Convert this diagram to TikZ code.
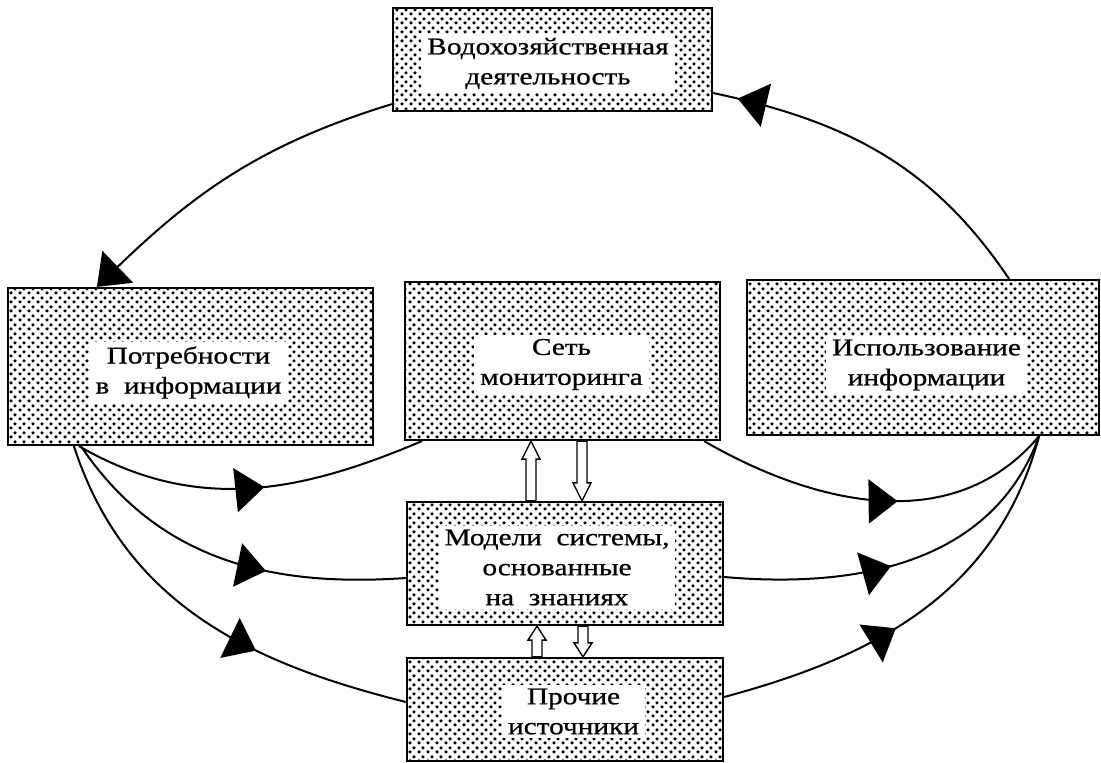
\documentclass[tikz,border=0pt]{standalone}
\usepackage{fontspec}
\setmainfont{Liberation Serif}[FakeStretch=1.22,FakeBold=0.8]
\usetikzlibrary{arrows.meta,patterns,decorations.markings}
\pgfdeclarepatternformonly{halftone}{\pgfpointorigin}{\pgfpoint{8.5pt}{9pt}}{\pgfpoint{8.5pt}{9pt}}{%
  \pgfpathcircle{\pgfpoint{2.125pt}{2.25pt}}{1.9pt}%
  \pgfpathcircle{\pgfpoint{6.375pt}{6.75pt}}{1.9pt}%
  \pgfusepath{fill}}
\newcommand{\hollowup}[3]{%
  \draw[hol] (#1) -- ++(9,#3) -- ++(-4,0) -- ([xshift=5pt]#2) -- ([xshift=-5pt]#2)
    -- ([shift={(-5,#3)}]#1) -- ++(-4,0) -- cycle;}
\newcommand{\hollowdown}[3]{%
  \draw[hol] (#1) -- ++(9,-#3) -- ++(-4,0) -- ([xshift=5pt]#2) -- ([xshift=-5pt]#2)
    -- ([shift={(-5,-#3)}]#1) -- ++(-4,0) -- cycle;}
\begin{document}
\begin{tikzpicture}[x=1pt,y=-1pt,
  box/.style={draw, line width=2.2pt, pattern=halftone, inner sep=0pt},
  lbl/.style={fill=white, align=center, inner xsep=6pt, inner ysep=4pt, font=\fontsize{24}{30}\selectfont},
  conn/.style={line width=2pt},
  bigtip/.style={-{Triangle[length=29pt,width=44pt]}},
  midarrow/.style={postaction={decorate}, decoration={markings,
      mark=at position #1 with {\arrow{Triangle[length=29pt,width=44pt]}}}},
  hol/.style={draw, line width=1.4pt, fill=white, line join=miter}
]
\useasboundingbox (0,0) rectangle (1101,763);

% boxes
\node[box, minimum width=319pt, minimum height=103pt] (wm)    at (552.5,59.5) {};
\node[box, minimum width=365pt, minimum height=157pt] (need)  at (190.5,366.5) {};
\node[box, minimum width=315pt, minimum height=158pt] (net)   at (562.5,361) {};
\node[box, minimum width=352pt, minimum height=155pt] (use)   at (923,357.5) {};
\node[box, minimum width=316pt, minimum height=123pt] (model) at (565,563.5) {};
\node[box, minimum width=316pt, minimum height=103pt] (other) at (565,709.5) {};

% labels
\node[lbl] (wmt)    at (548,63.5)  {Водохозяйственная\\деятельность};
\node[lbl] (needt)  at (188.5,372.5) {Потребности\\в\ \ информации};
\node[lbl] (nett)   at (561.5,364.5) {Сеть\\мониторинга};
\node[lbl] (uset)   at (926.5,365) {Использование\\информации};
\node[lbl] (modelt) at (557,567.5) {Модели\ \ системы,\\основанные\\на\ \ знаниях};
\node[lbl] (othert) at (573.5,711.5) {Прочие\\источники};

% curved connectors
\draw[conn, bigtip] ([yshift=8pt]wm.south west) to[out=197,in=44] ([xshift=90pt]need.north west);
\draw[conn, midarrow=0.54] ([xshift=72pt]need.south west) to[out=-30,in=203] ([xshift=18pt]net.south west);
\draw[conn, midarrow=0.62] ([xshift=74pt]need.south west) to[out=-56,in=184] ([yshift=-14.5pt]model.west);
\draw[conn, midarrow=0.64] ([xshift=67pt]need.south west) to[out=-72,in=166] ([yshift=7.5pt]other.west);
\draw[conn, midarrow=0.56] ([xshift=-17pt]net.south east) to[out=-30,in=230] ([xshift=-61pt]use.south east);
\draw[conn, midarrow=0.45] ([yshift=-13.5pt]model.east) to[out=-5,in=250] ([xshift=-61pt]use.south east);
\draw[conn, midarrow=0.43] ([yshift=12.5pt]other.east) to[out=15,in=255] ([xshift=-61pt]use.south east);
\draw[conn, midarrow=0.93] ([xshift=-91pt]use.north east) to[out=124,in=-12] ([yshift=-33.5pt]wm.east);

% hollow arrows
\coordinate (u1tip) at ([xshift=-31.5pt]net.south);
\coordinate (u1tail) at ([xshift=-34pt]model.north);
\coordinate (d1tip) at ([xshift=17pt]model.north);
\coordinate (d1tail) at ([xshift=19.5pt]net.south);
\coordinate (u2tip) at ([xshift=-28pt]model.south);
\coordinate (u2tail) at ([xshift=-28pt]other.north);
\coordinate (d2tip) at ([xshift=18pt]other.north);
\coordinate (d2tail) at ([xshift=18pt]model.south);
\hollowup{u1tip}{u1tail}{18}
\hollowdown{d1tip}{d1tail}{18}
\hollowup{u2tip}{u2tail}{14}
\hollowdown{d2tip}{d2tail}{14}
\end{tikzpicture}
\end{document}
